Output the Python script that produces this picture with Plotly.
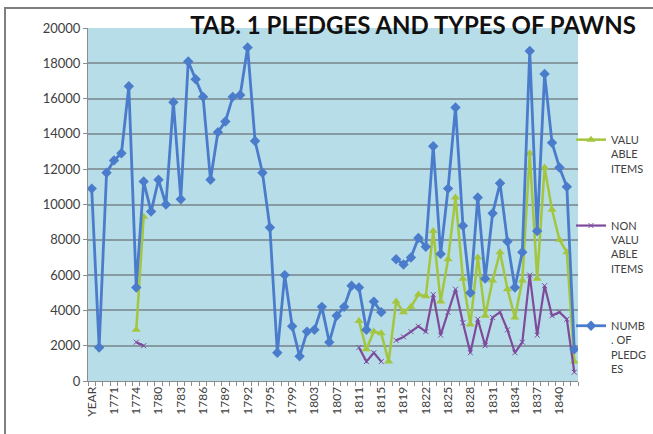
import plotly.graph_objects as go

categories = ["YEAR", "1769", "1770", "1771", "1772", "1773", "1774", "1776", "1778",
              "1780", "1781", "1782", "1783", "1784", "1785", "1786", "1787", "1788",
              "1789", "1790", "1791", "1792", "1793", "1794", "1795", "1797", "1798",
              "1799", "1801", "1802", "1803", "1805", "1806", "1807", "1809", "1810",
              "1811", "1813", "1814", "1815", "1817", "1818", "1819", "1820", "1821",
              "1822", "1823", "1824", "1825", "1826", "1827", "1828", "1829", "1830",
              "1831", "1832", "1833", "1834", "1835", "1836", "1837", "1838", "1839",
              "1840", "1841", "1842"]

shown_labels = ["YEAR", "1771", "1774", "1780", "1783", "1786", "1789", "1792", "1795",
                "1799", "1803", "1807", "1811", "1815", "1819", "1822", "1825", "1828",
                "1831", "1834", "1837", "1840"]

N = None
valuable_items = [N, N, N, N, N, N, 2900, 9300, N, N, N, N, N, N, N, N, N, N,
                  N, N, N, N, N, N, N, N, N, N, N, N, N, N, N, N, N, N,
                  3400, 1800, 2800, 2700, 1100, 4500, 3900, 4200, 4900, 4800, 8500, 4500,
                  6900, 10400, 5800, 3200, 7000, 3700, 5700, 7300, 5200, 3600, 5700, 12900,
                  5800, 12100, 9700, 8000, 7300, 1100]

non_valuable_items = [N, N, N, N, N, N, 2200, 2000, N, N, N, N, N, N, N, N, N, N,
                      N, N, N, N, N, N, N, N, N, N, N, N, N, N, N, N, N, N,
                      1900, 1100, 1600, 1100, N, 2300, 2500, 2800, 3100, 2800, 4900, 2600,
                      3900, 5200, 3300, 1600, 3500, 2000, 3600, 3900, 2900, 1600, 2200, 6000,
                      2600, 5400, 3700, 3900, 3500, 500]

number_of_pledges = [10900, 1900, 11800, 12500, 12900, 16700, 5300, 11300, 9600, 11400,
                     10000, 15800, 10300, 18100, 17100, 16100, 11400, 14100, 14700, 16100,
                     16200, 18900, 13600, 11800, 8700, 1600, 6000, 3100, 1400, 2800,
                     2900, 4200, 2200, 3700, 4200, 5400, 5300, 2900, 4500, 3900,
                     N, 6900, 6600, 7000, 8100, 7600, 13300, 7200, 10900, 15500,
                     8800, 5000, 10400, 5800, 9500, 11200, 7900, 5300, 7300, 18700,
                     8500, 17400, 13500, 12100, 11000, 1800]

series_names = ["VALU<br>ABLE<br>ITEMS", "NON<br>VALU<br>ABLE<br>ITEMS", "NUMB<br>. OF<br>PLEDG<br>ES"]

green = "#a3c63e"
purple = "#7e4a9c"
blue = "#4a7ccb"
txt = "#404040"
FONT = "Lato, 'Open Sans', sans-serif"

fig = go.Figure()
fig.add_trace(go.Scatter(x=categories, y=valuable_items, name=series_names[0], legendgroup="a",
                         mode="lines+markers", connectgaps=False,
                         line=dict(color=green, width=2.5),
                         marker=dict(symbol="triangle-up", size=8, color=green)))
fig.add_trace(go.Scatter(x=categories, y=non_valuable_items, name=series_names[1], legendgroup="b",
                         mode="lines+markers", connectgaps=False,
                         line=dict(color=purple, width=2.2),
                         marker=dict(symbol="x-thin", size=5, line=dict(color=purple, width=1), color=purple)))
fig.add_trace(go.Scatter(x=categories, y=number_of_pledges, name=series_names[2], legendgroup="c",
                         mode="lines+markers", connectgaps=False,
                         line=dict(color=blue, width=2.8),
                         marker=dict(symbol="diamond", size=8, color=blue)))

# Figure is drawn slightly wider than the 653px window; the page clips the overflow,
# as the reference's legend text is clipped at its right edge.
L, R, T, B = 88, 578, 28, 381
W, H = 700, 434

ticktext = [c if c in shown_labels else "" for c in categories]

fig.update_layout(
    width=W, height=H,
    margin=dict(l=L, r=W - R, t=T, b=H - B),
    paper_bgcolor="white",
    plot_bgcolor="#b7dde8",
    font=dict(family=FONT, color=txt),
    title=dict(text="<b>TAB. 1 PLEDGES AND TYPES OF PAWNS</b>",
               x=413 / W, xanchor="center", y=1 - 26 / H, yanchor="middle",
               font=dict(size=24, color="#111111", family=FONT)),
    showlegend=True,
    legend=dict(x=(571 - L) / (R - L), xanchor="left", y=(B - 126) / (B - T), yanchor="top",
                font=dict(size=11, color=txt, family=FONT), valign="top",
                bgcolor="rgba(0,0,0,0)", tracegroupgap=40, itemwidth=30,
                traceorder="grouped"),
    xaxis=dict(type="category", tickmode="array", tickvals=categories, ticktext=ticktext,
               tickangle=-90, tickson="boundaries", ticks="outside", ticklen=4,
               tickcolor="#8c8c8c", showgrid=False, showline=True, linecolor="#8c8c8c",
               linewidth=1, tickfont=dict(size=12, color=txt), range=[-0.5, len(categories) - 0.5]),
    yaxis=dict(range=[0, 20000], dtick=2000, tickformat="d", showgrid=True, gridcolor="#879aa2",
               gridwidth=1.5, showline=True, linecolor="#8c8c8c", linewidth=1, ticks="outside",
               ticklen=4, tickcolor="#8c8c8c", tickfont=dict(size=13, color=txt), zeroline=False),
    shapes=[dict(type="rect", xref="paper", yref="paper",
                 x0=(5 - L) / (R - L), x1=(W + 10 - L) / (R - L),
                 y0=(B - (H + 10)) / (B - T), y1=(B - 8) / (B - T),
                 line=dict(color="#7f7f7f", width=2), layer="below")],
)

fig.write_html("out.html", config={"displayModeBar": False},
               post_script="document.body.style.margin='0';document.body.style.overflow='hidden';")
